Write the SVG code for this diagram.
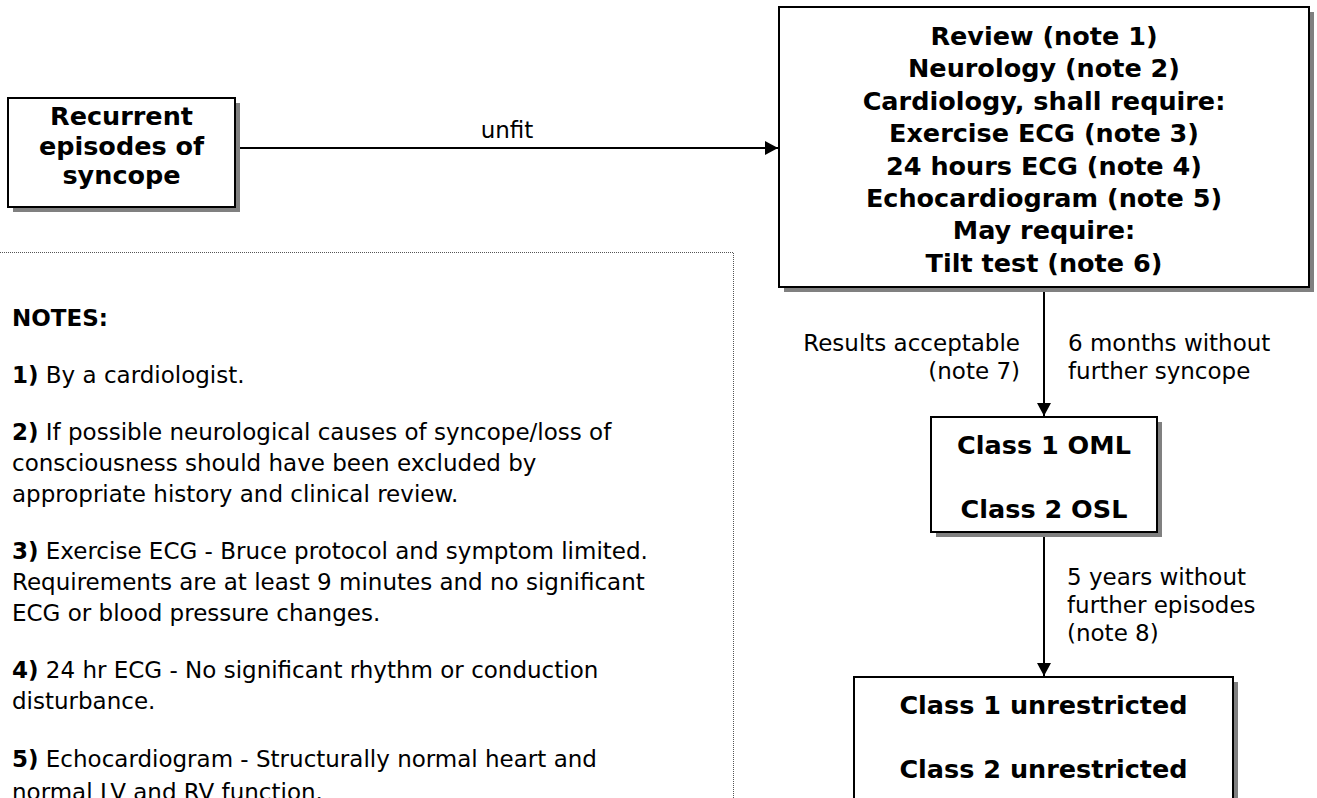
<svg xmlns="http://www.w3.org/2000/svg" width="1317" height="798" viewBox="0 0 1317 798">
  <defs>
    <marker id="arrow" markerUnits="userSpaceOnUse" markerWidth="14" markerHeight="14" refX="13" refY="7" orient="auto">
      <path d="M0,0 L13,7 L0,14 z" fill="#000"/>
    </marker>
  </defs>
  <style>
    .box { fill: #fff; stroke: #000; stroke-width: 2; }
    .shadow { fill: #808080; }
    .b { font-family: "DejaVu Sans", Verdana, sans-serif; font-weight: bold; font-size: 25.5px; fill: #000; }
    .t { font-family: "DejaVu Sans", Verdana, sans-serif; font-size: 23px; fill: #000; }
    .mid { text-anchor: middle; }
    .end { text-anchor: end; }
    .edge { fill: none; stroke: #000; stroke-width: 2; }
    .notes { fill: #fff; stroke: #555; stroke-width: 1; stroke-dasharray: 1 1; }
  </style>
  <rect width="1317" height="798" fill="#fff"/>

  <!-- notes panel -->
  <g id="notes">
    <rect class="notes" x="-2" y="252.5" width="735.5" height="570"/>
    <text class="b" x="12" y="326" style="font-size:23px">NOTES:</text>
    <text class="t" x="12" y="383"><tspan font-weight="bold">1)</tspan> By a cardiologist.</text>
    <text class="t" x="12" y="440"><tspan font-weight="bold">2)</tspan> If possible neurological causes of syncope/loss of</text>
    <text class="t" x="12" y="471">consciousness should have been excluded by</text>
    <text class="t" x="12" y="502">appropriate history and clinical review.</text>
    <text class="t" x="12" y="559"><tspan font-weight="bold">3)</tspan> Exercise ECG - Bruce protocol and symptom limited.</text>
    <text class="t" x="12" y="590">Requirements are at least 9 minutes and no significant</text>
    <text class="t" x="12" y="621">ECG or blood pressure changes.</text>
    <text class="t" x="12" y="678"><tspan font-weight="bold">4)</tspan> 24 hr ECG - No significant rhythm or conduction</text>
    <text class="t" x="12" y="709">disturbance.</text>
    <text class="t" x="12" y="767"><tspan font-weight="bold">5)</tspan> Echocardiogram - Structurally normal heart and</text>
    <text class="t" x="12" y="800">normal LV and RV function.</text>
  </g>

  <!-- connectors -->
  <g id="connectors">
    <line class="edge" x1="236" y1="148" x2="778" y2="148" marker-end="url(#arrow)"/>
    <text class="t mid" x="507" y="138">unfit</text>
    <line class="edge" x1="1044" y1="288" x2="1044" y2="416" marker-end="url(#arrow)"/>
    <text class="t end" x="1020" y="351">Results acceptable</text>
    <text class="t end" x="1020" y="379">(note 7)</text>
    <text class="t" x="1068" y="351">6 months without</text>
    <text class="t" x="1068" y="379">further syncope</text>
    <line class="edge" x1="1044" y1="533" x2="1044" y2="676" marker-end="url(#arrow)"/>
    <text class="t" x="1067" y="585">5 years without</text>
    <text class="t" x="1067" y="613">further episodes</text>
    <text class="t" x="1067" y="641">(note 8)</text>
  </g>

  <!-- start node -->
  <g id="syncope">
    <rect class="shadow" x="13" y="103" width="227" height="109"/>
    <rect class="box" x="8" y="98" width="227" height="109"/>
    <text class="b mid" x="121.5" y="125">Recurrent</text>
    <text class="b mid" x="121.5" y="155">episodes of</text>
    <text class="b mid" x="121.5" y="184">syncope</text>
  </g>

  <!-- assessment node -->
  <g id="assessment">
    <rect class="shadow" x="784" y="12" width="530" height="280"/>
    <rect class="box" x="779" y="7" width="530" height="280"/>
    <text class="b mid" x="1044" y="45">Review (note 1)</text>
    <text class="b mid" x="1044" y="77.4">Neurology (note 2)</text>
    <text class="b mid" x="1044" y="109.8">Cardiology, shall require:</text>
    <text class="b mid" x="1044" y="142.2">Exercise ECG (note 3)</text>
    <text class="b mid" x="1044" y="174.6">24 hours ECG (note 4)</text>
    <text class="b mid" x="1044" y="207">Echocardiogram (note 5)</text>
    <text class="b mid" x="1044" y="239.4">May require:</text>
    <text class="b mid" x="1044" y="271.8">Tilt test (note 6)</text>
  </g>

  <!-- restricted certificate node -->
  <g id="restricted">
    <rect class="shadow" x="936" y="422" width="226" height="115"/>
    <rect class="box" x="931" y="417" width="226" height="115"/>
    <text class="b mid" x="1044" y="454">Class 1 OML</text>
    <text class="b mid" x="1044" y="518">Class 2 OSL</text>
  </g>

  <!-- unrestricted certificate node -->
  <g id="unrestricted">
    <rect class="shadow" x="859" y="682" width="379" height="140"/>
    <rect class="box" x="854" y="677" width="379" height="140"/>
    <text class="b mid" x="1043.5" y="714">Class 1 unrestricted</text>
    <text class="b mid" x="1043.5" y="778">Class 2 unrestricted</text>
  </g>
</svg>
